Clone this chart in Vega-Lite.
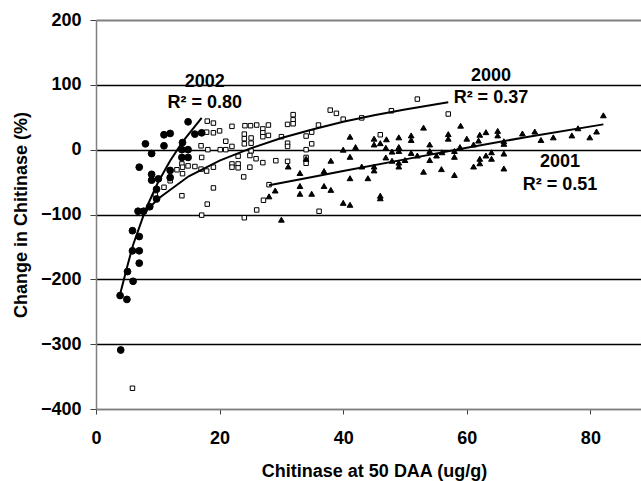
{
  "$schema": "https://vega.github.io/schema/vega-lite/v6.json",
  "autosize": {"type": "none"},
  "padding": {"left": 96, "top": 20, "right": 0, "bottom": 72},
  "width": 545,
  "height": 389,
  "background": "white",
  "config": {"view": {"stroke": null}},
  "datasets": {
    "points": [
      {"x": 5.9, "y": -368, "year": "2000"},
      {"x": 9.6, "y": -70, "year": "2000"},
      {"x": 11.0, "y": -58, "year": "2000"},
      {"x": 12.0, "y": -48, "year": "2000"},
      {"x": 13.1, "y": -31, "year": "2000"},
      {"x": 13.9, "y": -22, "year": "2000"},
      {"x": 14.0, "y": -27, "year": "2000"},
      {"x": 14.0, "y": -37, "year": "2000"},
      {"x": 13.9, "y": -71, "year": "2000"},
      {"x": 14.9, "y": -25, "year": "2000"},
      {"x": 16.0, "y": -26, "year": "2000"},
      {"x": 17.1, "y": -12, "year": "2000"},
      {"x": 17.0, "y": -30, "year": "2000"},
      {"x": 17.9, "y": -33, "year": "2000"},
      {"x": 19.0, "y": -27, "year": "2000"},
      {"x": 19.0, "y": -59, "year": "2000"},
      {"x": 18.0, "y": -84, "year": "2000"},
      {"x": 17.1, "y": -101, "year": "2000"},
      {"x": 17.0, "y": 6, "year": "2000"},
      {"x": 18.1, "y": 0, "year": "2000"},
      {"x": 20.1, "y": 0, "year": "2000"},
      {"x": 21.0, "y": 0, "year": "2000"},
      {"x": 21.0, "y": 13, "year": "2000"},
      {"x": 22.0, "y": 5, "year": "2000"},
      {"x": 18.0, "y": 44, "year": "2000"},
      {"x": 19.0, "y": 41, "year": "2000"},
      {"x": 17.9, "y": 27, "year": "2000"},
      {"x": 19.0, "y": 26, "year": "2000"},
      {"x": 20.0, "y": 29, "year": "2000"},
      {"x": 22.0, "y": 36, "year": "2000"},
      {"x": 24.1, "y": 37, "year": "2000"},
      {"x": 25.0, "y": 37, "year": "2000"},
      {"x": 26.0, "y": 38, "year": "2000"},
      {"x": 27.9, "y": 38, "year": "2000"},
      {"x": 27.0, "y": 32, "year": "2000"},
      {"x": 27.0, "y": 26, "year": "2000"},
      {"x": 27.0, "y": 20, "year": "2000"},
      {"x": 27.9, "y": 22, "year": "2000"},
      {"x": 24.0, "y": 24, "year": "2000"},
      {"x": 24.0, "y": 17, "year": "2000"},
      {"x": 25.1, "y": 18, "year": "2000"},
      {"x": 24.0, "y": 9, "year": "2000"},
      {"x": 25.1, "y": 10, "year": "2000"},
      {"x": 25.1, "y": -2, "year": "2000"},
      {"x": 23.0, "y": -10, "year": "2000"},
      {"x": 24.9, "y": -9, "year": "2000"},
      {"x": 25.9, "y": -14, "year": "2000"},
      {"x": 27.0, "y": -20, "year": "2000"},
      {"x": 29.1, "y": -17, "year": "2000"},
      {"x": 22.0, "y": -22, "year": "2000"},
      {"x": 22.0, "y": -27, "year": "2000"},
      {"x": 23.0, "y": -22, "year": "2000"},
      {"x": 23.0, "y": -28, "year": "2000"},
      {"x": 24.9, "y": -27, "year": "2000"},
      {"x": 23.9, "y": -42, "year": "2000"},
      {"x": 24.0, "y": -105, "year": "2000"},
      {"x": 26.0, "y": -93, "year": "2000"},
      {"x": 27.1, "y": -78, "year": "2000"},
      {"x": 28.0, "y": -54, "year": "2000"},
      {"x": 37.9, "y": 61, "year": "2000"},
      {"x": 38.9, "y": 56, "year": "2000"},
      {"x": 40.0, "y": 47, "year": "2000"},
      {"x": 36.0, "y": 38, "year": "2000"},
      {"x": 34.9, "y": 27, "year": "2000"},
      {"x": 34.0, "y": 21, "year": "2000"},
      {"x": 34.9, "y": 9, "year": "2000"},
      {"x": 34.0, "y": 0, "year": "2000"},
      {"x": 34.0, "y": -21, "year": "2000"},
      {"x": 34.0, "y": -12, "year": "2000"},
      {"x": 31.0, "y": 39, "year": "2000"},
      {"x": 31.0, "y": 10, "year": "2000"},
      {"x": 31.0, "y": 5, "year": "2000"},
      {"x": 31.0, "y": -18, "year": "2000"},
      {"x": 31.9, "y": 54, "year": "2000"},
      {"x": 31.9, "y": 46, "year": "2000"},
      {"x": 31.9, "y": 40, "year": "2000"},
      {"x": 30.0, "y": 20, "year": "2000"},
      {"x": 36.1, "y": -95, "year": "2000"},
      {"x": 43.0, "y": 49, "year": "2000"},
      {"x": 47.8, "y": 60, "year": "2000"},
      {"x": 46.0, "y": 23, "year": "2000"},
      {"x": 52.0, "y": 78, "year": "2000"},
      {"x": 57.0, "y": 55, "year": "2000"},
      {"x": 28.0, "y": -72, "year": "2001"},
      {"x": 29.0, "y": -63, "year": "2001"},
      {"x": 30.0, "y": -108, "year": "2001"},
      {"x": 31.1, "y": -26, "year": "2001"},
      {"x": 33.0, "y": -36, "year": "2001"},
      {"x": 33.0, "y": -56, "year": "2001"},
      {"x": 33.0, "y": -68, "year": "2001"},
      {"x": 34.9, "y": -68, "year": "2001"},
      {"x": 34.0, "y": -14, "year": "2001"},
      {"x": 36.9, "y": -33, "year": "2001"},
      {"x": 36.9, "y": -56, "year": "2001"},
      {"x": 38.0, "y": -17, "year": "2001"},
      {"x": 38.0, "y": -62, "year": "2001"},
      {"x": 40.0, "y": 0, "year": "2001"},
      {"x": 40.0, "y": -82, "year": "2001"},
      {"x": 41.1, "y": 20, "year": "2001"},
      {"x": 41.1, "y": -11, "year": "2001"},
      {"x": 41.1, "y": -44, "year": "2001"},
      {"x": 41.1, "y": -85, "year": "2001"},
      {"x": 42.0, "y": 4, "year": "2001"},
      {"x": 43.0, "y": -26, "year": "2001"},
      {"x": 44.0, "y": -44, "year": "2001"},
      {"x": 45.0, "y": 17, "year": "2001"},
      {"x": 45.0, "y": 8, "year": "2001"},
      {"x": 45.0, "y": -26, "year": "2001"},
      {"x": 45.0, "y": -32, "year": "2001"},
      {"x": 46.0, "y": 10, "year": "2001"},
      {"x": 46.0, "y": -71, "year": "2001"},
      {"x": 46.0, "y": -75, "year": "2001"},
      {"x": 47.0, "y": 16, "year": "2001"},
      {"x": 46.9, "y": 3, "year": "2001"},
      {"x": 46.9, "y": -12, "year": "2001"},
      {"x": 47.9, "y": -3, "year": "2001"},
      {"x": 47.9, "y": -17, "year": "2001"},
      {"x": 49.0, "y": 19, "year": "2001"},
      {"x": 49.0, "y": 4, "year": "2001"},
      {"x": 49.0, "y": -2, "year": "2001"},
      {"x": 49.0, "y": -20, "year": "2001"},
      {"x": 49.0, "y": -26, "year": "2001"},
      {"x": 50.0, "y": -16, "year": "2001"},
      {"x": 51.0, "y": 22, "year": "2001"},
      {"x": 51.0, "y": 15, "year": "2001"},
      {"x": 51.0, "y": -5, "year": "2001"},
      {"x": 52.0, "y": -9, "year": "2001"},
      {"x": 53.0, "y": 34, "year": "2001"},
      {"x": 53.0, "y": -34, "year": "2001"},
      {"x": 54.0, "y": 8, "year": "2001"},
      {"x": 54.0, "y": -2, "year": "2001"},
      {"x": 54.0, "y": -16, "year": "2001"},
      {"x": 55.1, "y": -9, "year": "2001"},
      {"x": 56.0, "y": -4, "year": "2001"},
      {"x": 55.9, "y": -30, "year": "2001"},
      {"x": 57.0, "y": 24, "year": "2001"},
      {"x": 57.0, "y": 17, "year": "2001"},
      {"x": 58.0, "y": -2, "year": "2001"},
      {"x": 58.0, "y": -11, "year": "2001"},
      {"x": 58.0, "y": -39, "year": "2001"},
      {"x": 58.9, "y": 4, "year": "2001"},
      {"x": 59.0, "y": 37, "year": "2001"},
      {"x": 60.0, "y": 17, "year": "2001"},
      {"x": 61.1, "y": 8, "year": "2001"},
      {"x": 61.1, "y": -26, "year": "2001"},
      {"x": 61.9, "y": 14, "year": "2001"},
      {"x": 62.1, "y": 23, "year": "2001"},
      {"x": 62.1, "y": -14, "year": "2001"},
      {"x": 62.1, "y": -21, "year": "2001"},
      {"x": 63.1, "y": 27, "year": "2001"},
      {"x": 63.1, "y": -9, "year": "2001"},
      {"x": 64.0, "y": -4, "year": "2001"},
      {"x": 64.0, "y": -14, "year": "2001"},
      {"x": 65.0, "y": 29, "year": "2001"},
      {"x": 65.0, "y": 22, "year": "2001"},
      {"x": 66.0, "y": 13, "year": "2001"},
      {"x": 66.0, "y": 9, "year": "2001"},
      {"x": 66.0, "y": -6, "year": "2001"},
      {"x": 66.0, "y": -29, "year": "2001"},
      {"x": 69.0, "y": 25, "year": "2001"},
      {"x": 71.0, "y": 28, "year": "2001"},
      {"x": 72.0, "y": 15, "year": "2001"},
      {"x": 74.0, "y": 19, "year": "2001"},
      {"x": 77.0, "y": 22, "year": "2001"},
      {"x": 78.0, "y": 33, "year": "2001"},
      {"x": 79.9, "y": 19, "year": "2001"},
      {"x": 81.0, "y": 28, "year": "2001"},
      {"x": 82.1, "y": 53, "year": "2001"},
      {"x": 4.0, "y": -309, "year": "2002"},
      {"x": 3.9, "y": -225, "year": "2002"},
      {"x": 5.0, "y": -231, "year": "2002"},
      {"x": 5.1, "y": -188, "year": "2002"},
      {"x": 6.0, "y": -203, "year": "2002"},
      {"x": 5.9, "y": -156, "year": "2002"},
      {"x": 7.0, "y": -156, "year": "2002"},
      {"x": 7.0, "y": -175, "year": "2002"},
      {"x": 5.9, "y": -125, "year": "2002"},
      {"x": 7.0, "y": -134, "year": "2002"},
      {"x": 6.8, "y": -95, "year": "2002"},
      {"x": 7.7, "y": -95, "year": "2002"},
      {"x": 8.7, "y": -88, "year": "2002"},
      {"x": 9.8, "y": -76, "year": "2002"},
      {"x": 7.0, "y": -27, "year": "2002"},
      {"x": 8.0, "y": 9, "year": "2002"},
      {"x": 9.0, "y": -6, "year": "2002"},
      {"x": 9.0, "y": -38, "year": "2002"},
      {"x": 9.0, "y": -47, "year": "2002"},
      {"x": 10.1, "y": -45, "year": "2002"},
      {"x": 9.8, "y": -61, "year": "2002"},
      {"x": 11.0, "y": 23, "year": "2002"},
      {"x": 11.0, "y": 6, "year": "2002"},
      {"x": 12.0, "y": 25, "year": "2002"},
      {"x": 12.0, "y": -32, "year": "2002"},
      {"x": 12.0, "y": -43, "year": "2002"},
      {"x": 14.9, "y": 43, "year": "2002"},
      {"x": 14.0, "y": 11, "year": "2002"},
      {"x": 13.9, "y": 0, "year": "2002"},
      {"x": 14.9, "y": 0, "year": "2002"},
      {"x": 13.9, "y": -12, "year": "2002"},
      {"x": 14.9, "y": -12, "year": "2002"},
      {"x": 16.0, "y": 24, "year": "2002"},
      {"x": 17.1, "y": 26, "year": "2002"}
    ],
    "trends": [
      {"x": 3.9, "y": -223, "series": "2002"},
      {"x": 5.0, "y": -182, "series": "2002"},
      {"x": 6.0, "y": -147, "series": "2002"},
      {"x": 8.0, "y": -93, "series": "2002"},
      {"x": 10.0, "y": -51, "series": "2002"},
      {"x": 12.0, "y": -17, "series": "2002"},
      {"x": 14.0, "y": 12, "series": "2002"},
      {"x": 17.1, "y": 49, "series": "2002"},
      {"x": 7.5, "y": -101, "series": "2000"},
      {"x": 10.0, "y": -76, "series": "2000"},
      {"x": 15.0, "y": -41, "series": "2000"},
      {"x": 20.0, "y": -17, "series": "2000"},
      {"x": 25.0, "y": 2, "series": "2000"},
      {"x": 30.0, "y": 18, "series": "2000"},
      {"x": 35.0, "y": 31, "series": "2000"},
      {"x": 40.0, "y": 43, "series": "2000"},
      {"x": 45.0, "y": 53, "series": "2000"},
      {"x": 50.0, "y": 62, "series": "2000"},
      {"x": 57.0, "y": 73, "series": "2000"},
      {"x": 28.0, "y": -55, "series": "2001"},
      {"x": 35.0, "y": -42, "series": "2001"},
      {"x": 40.0, "y": -33, "series": "2001"},
      {"x": 50.0, "y": -15, "series": "2001"},
      {"x": 60.0, "y": 3, "series": "2001"},
      {"x": 70.0, "y": 20, "series": "2001"},
      {"x": 82.1, "y": 39, "series": "2001"}
    ],
    "labels": [
      {"x": 17.6, "y": 104, "t": "2002"},
      {"x": 17.6, "y": 72, "t": "R² = 0.80"},
      {"x": 63.9, "y": 114, "t": "2000"},
      {"x": 63.9, "y": 79.5, "t": "R² = 0.37"},
      {"x": 75.1, "y": -19.3, "t": "2001"},
      {"x": 75.1, "y": -55, "t": "R² = 0.51"}
    ]
  },
  "encoding": {
    "x": {
      "field": "x",
      "type": "quantitative",
      "scale": {"domain": [0, 88.19], "nice": false, "zero": false},
      "axis": {
        "values": [0, 20, 40, 60, 80],
        "grid": false,
        "domainColor": "#808080",
        "domainWidth": 1.5,
        "tickColor": "#404040",
        "tickSize": 5,
        "tickWidth": 1,
        "labelFont": "Liberation Sans",
        "labelFontSize": 18,
        "labelFontWeight": "bold",
        "labelColor": "black",
        "labelPadding": 15,
        "labelFlush": false,
        "labelOverlap": false,
        "title": "Chitinase at 50 DAA (ug/g)",
        "titleFont": "Liberation Sans",
        "titleFontSize": 18,
        "titleFontWeight": "bold",
        "titleColor": "black",
        "titleBaseline": "alphabetic",
        "titleX": 278,
        "titleY": 67
      }
    },
    "y": {
      "field": "y",
      "type": "quantitative",
      "scale": {"domain": [-400, 200], "nice": false, "zero": false},
      "axis": {
        "values": [-400, -300, -200, -100, 0, 100, 200],
        "grid": true,
        "gridColor": {"condition": {"test": "datum.value === 200 || datum.value === -400", "value": "#808080"}, "value": "black"},
        "gridWidth": {"condition": {"test": "datum.value === 200", "value": 1.8}, "value": 1.3},
        "domainColor": "#808080",
        "domainWidth": 1.5,
        "tickColor": "#404040",
        "tickSize": 6,
        "tickWidth": 1,
        "labelFont": "Liberation Sans",
        "labelFontSize": 18,
        "labelFontWeight": "bold",
        "labelColor": "black",
        "labelPadding": 9,
        "labelFlush": false,
        "labelOverlap": false,
        "title": "Change in Chitinase (%)",
        "titleFont": "Liberation Sans",
        "titleFontSize": 18,
        "titleFontWeight": "bold",
        "titleColor": "black",
        "titleAngle": 270,
        "titleBaseline": "alphabetic",
        "titleX": -70,
        "titleY": 194.5
      }
    }
  },
  "layer": [
    {
      "data": {"name": "points"},
      "mark": {"type": "point", "filled": true, "stroke": "black", "strokeWidth": 1, "opacity": 1},
      "encoding": {
        "shape": {"field": "year", "type": "nominal", "scale": {"domain": ["2000", "2001", "2002"], "range": ["square", "triangle-up", "circle"]}, "legend": null},
        "fill": {"field": "year", "type": "nominal", "scale": {"domain": ["2000", "2001", "2002"], "range": ["white", "black", "black"]}, "legend": null},
        "size": {"field": "year", "type": "nominal", "scale": {"domain": ["2000", "2001", "2002"], "range": [20, 46, 32]}, "legend": null}
      }
    },
    {
      "data": {"name": "trends"},
      "mark": {"type": "line", "color": "black", "strokeWidth": 2},
      "encoding": {
        "detail": {"field": "series", "type": "nominal"},
        "order": {"field": "x", "type": "quantitative"}
      }
    },
    {
      "data": {"name": "labels"},
      "mark": {"type": "text", "font": "Liberation Sans", "fontSize": 18, "fontWeight": "bold", "color": "black", "align": "center", "baseline": "middle"},
      "encoding": {
        "text": {"field": "t", "type": "nominal"}
      }
    }
  ]
}
